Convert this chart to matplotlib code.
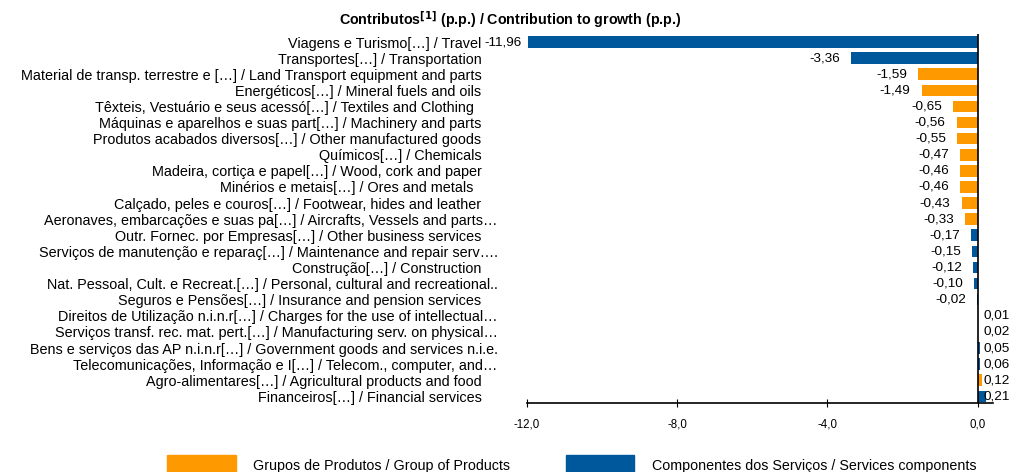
import matplotlib.pyplot as plt
from matplotlib.patches import Patch

plt.rcParams["font.family"] = ["Liberation Sans", "DejaVu Sans"]

labels = [
    "Viagens e Turismo[…] / Travel",
    "Transportes[…] / Transportation",
    "Material de transp. terrestre e […] / Land Transport equipment and parts",
    "Energéticos[…] / Mineral fuels and oils",
    "Têxteis, Vestuário e seus acessó[…] / Textiles and Clothing  ",
    "Máquinas e aparelhos e suas part[…] / Machinery and parts",
    "Produtos acabados diversos[…] / Other manufactured goods",
    "Químicos[…] / Chemicals",
    "Madeira, cortiça e papel[…] / Wood, cork and paper",
    "Minérios e metais[…] / Ores and metals  ",
    "Calçado, peles e couros[…] / Footwear, hides and leather",
    "Aeronaves, embarcações e suas pa[…] / Aircrafts, Vessels and parts…",
    "Outr. Fornec. por Empresas[…] / Other business services",
    "Serviços de manutenção e reparaç[…] / Maintenance and repair serv….",
    "Construção[…] / Construction",
    "Nat. Pessoal, Cult. e Recreat.[…] / Personal, cultural and recreational..",
    "Seguros e Pensões[…] / Insurance and pension services",
    "Direitos de Utilização n.i.n.r[…] / Charges for the use of intellectual…",
    "Serviços transf. rec. mat. pert.[…] / Manufacturing serv. on physical…",
    "Bens e serviços das AP n.i.n.r[…] / Government goods and services n.i.e.",
    "Telecomunicações, Informação e I[…] / Telecom., computer, and…",
    "Agro-alimentares[…] / Agricultural products and food",
    "Financeiros[…] / Financial services",
]
values = [-11.96, -3.36, -1.59, -1.49, -0.65, -0.56, -0.55, -0.47, -0.46, -0.46,
          -0.43, -0.33, -0.17, -0.15, -0.12, -0.10, -0.02, 0.01, 0.02, 0.05,
          0.06, 0.12, 0.21]
# G = Grupos de Produtos, S = Componentes dos Serviços
groups = ["S", "S", "G", "G", "G", "G", "G", "G", "G", "G", "G", "G",
          "S", "S", "S", "S", "S", "S", "S", "S", "S", "G", "S"]

orange = "#FF9900"
blue = "#00589C"
colors = [orange if g == "G" else blue for g in groups]

# pad the plain labels so their right edges line up like the original
tick_labels = [l if l.endswith(("…", "..", ".")) else l + "    " for l in labels]

fig = plt.figure(figsize=(10.13, 4.72), dpi=100)
ax = fig.add_axes([0.520, 0.146, 0.460, 0.782])

y = list(range(len(values)))
ax.barh(y, values, height=0.72, color=colors)
ax.axvline(0, color="black", lw=1.2)

for yi, v in zip(y, values):
    txt = f"{v:.2f}".replace(".", ",")
    if v < 0:
        # the longest bar's label sits a bit closer, as in the original
        off = -4.5 if v < -10 else -8
        ax.annotate(txt, (v, yi), xytext=(off, 0), textcoords="offset points",
                    ha="right", va="center", fontsize=9.7)
    else:
        ax.annotate(txt, (0, yi), xytext=(4, 0), textcoords="offset points",
                    ha="left", va="center", fontsize=9.7)

ax.set_xlim(-12, 0.4)
ax.set_ylim(22.42, -0.5)
ax.set_xticks([-12, -8, -4, 0])
ax.set_xticklabels(["-12,0", "-8,0", "-4,0", "0,0"], fontsize=8.3)
ax.set_yticks(y)
ax.set_yticklabels(tick_labels, fontsize=10.4)
ax.tick_params(axis="y", length=0, pad=21)
ax.tick_params(axis="x", direction="inout", length=6, pad=8)

for s in ["top", "right", "left"]:
    ax.spines[s].set_visible(False)
ax.spines["bottom"].set_linewidth(1.2)

fig.text(0.504, 0.958, "Contributos$^{\\mathbf{[1]}}$ (p.p.) / Contribution to growth (p.p.)",
         ha="center", va="center", fontsize=10.3, fontweight="bold")

handles = [Patch(color=orange, label="Grupos de Produtos / Group of Products"),
           Patch(color=blue, label="Componentes dos Serviços / Services components")]
fig.legend(handles=handles, loc="upper left", bbox_to_anchor=(0.165, 0.036),
           ncol=2, frameon=False, fontsize=10.3, handlelength=4.8, handleheight=1.8,
           handletextpad=1.2, columnspacing=3.9, borderpad=0, borderaxespad=0)

fig.savefig("out.png", dpi=100)
